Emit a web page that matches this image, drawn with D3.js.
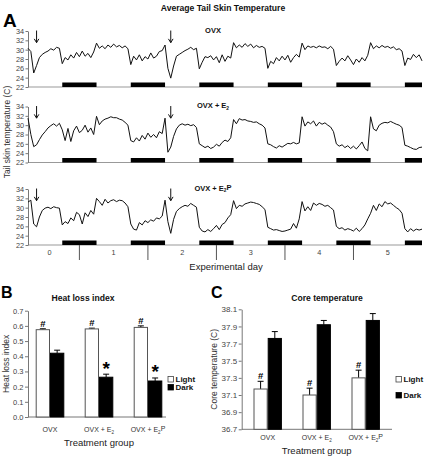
<!DOCTYPE html>
<html><head><meta charset="utf-8">
<script src="https://cdn.jsdelivr.net/npm/d3@7"></script>
<style>body{margin:0;background:#fff} text{font-family:"Liberation Sans",Arial,Helvetica,sans-serif}</style>
</head><body><svg id="c" width="425" height="456"></svg>
<script>
// ---------- Panel A data (hourly samples, °C) ----------
const ovx = [30.3,29.6,25.0,26.6,28.3,29.0,29.4,29.7,30.2,29.9,30.5,30.3,
 27.0,28.3,27.8,28.9,28.2,29.4,28.5,29.7,28.6,29.2,28.3,29.5,
 31.4,30.3,30.8,30.2,31.0,30.5,31.2,30.6,30.9,30.4,30.8,30.2,
 26.8,28.6,27.8,28.9,27.6,28.5,28.0,29.3,28.2,28.6,29.6,29.8,
 31.0,26.0,23.9,26.5,28.6,29.0,29.4,29.8,30.1,30.5,30.0,30.3,
 25.9,27.3,28.5,28.3,28.7,27.8,28.5,27.2,28.9,27.5,28.6,28.2,
 31.5,30.4,31.0,30.5,31.3,30.7,31.2,30.4,30.9,30.5,30.7,30.3,
 26.0,27.5,27.0,28.3,27.6,28.6,27.8,28.8,27.3,28.3,29.0,28.4,
 31.4,30.0,30.8,30.5,30.7,30.4,30.8,30.5,30.6,30.2,30.7,30.1,
 26.6,27.5,28.2,27.6,28.7,27.8,26.8,28.0,27.3,28.3,27.6,28.8,
 31.5,30.2,30.8,30.4,30.9,30.5,30.7,30.3,30.6,30.0,30.2,29.7,
 26.6,28.2,27.9,29.0,28.3,28.9,27.6];
const ovxE2 = [31.5,28.0,25.4,25.8,26.9,27.9,28.6,29.4,29.9,30.3,29.8,30.4,
 29.0,26.7,29.3,26.5,28.8,29.8,28.4,28.9,30.0,28.5,29.4,28.0,
 31.9,30.1,30.9,31.3,31.5,31.8,31.6,31.6,31.3,31.1,30.6,30.0,
 26.7,26.4,27.3,26.6,27.8,27.0,28.3,27.4,28.0,27.3,28.6,28.2,
 31.5,24.2,25.3,27.6,29.2,30.0,30.3,30.0,30.2,29.9,30.1,29.5,
 26.0,25.6,25.2,25.5,25.0,25.3,25.9,25.5,26.3,26.8,26.5,27.3,
 31.2,30.3,31.4,31.1,31.2,30.9,30.8,30.6,30.7,30.3,30.0,29.4,
 26.0,25.8,25.4,25.1,25.6,25.3,25.7,26.1,26.0,26.3,26.0,26.2,
 31.8,29.8,30.7,30.3,30.9,29.8,30.6,30.2,30.5,30.0,29.6,28.6,
 26.0,25.5,25.8,25.2,25.6,25.0,25.5,24.9,25.6,26.4,25.0,24.5,
 31.8,29.2,28.8,30.0,30.4,30.6,30.5,30.8,30.5,30.2,30.0,29.5,
 25.7,25.5,25.2,24.9,24.8,25.2,25.3];
const ovxE2P = [31.2,31.6,26.5,25.9,28.0,29.4,29.9,30.1,29.8,30.2,30.0,29.9,
 26.3,27.0,26.6,27.8,27.2,29.0,28.5,26.5,28.9,28.1,29.4,28.6,
 32.0,31.3,30.5,31.8,31.0,31.5,31.7,31.3,31.6,31.5,31.0,30.2,
 26.5,25.4,25.2,26.8,26.3,27.2,26.8,27.4,27.1,27.8,27.6,28.2,
 31.6,27.0,24.5,27.5,29.2,29.8,30.2,30.5,30.3,30.9,30.5,30.1,
 25.8,25.0,24.8,25.3,24.9,25.5,26.2,25.3,26.4,26.8,27.8,28.5,
 31.5,29.8,30.5,30.3,30.8,31.0,31.2,31.1,30.9,30.7,30.2,29.6,
 25.8,25.5,25.2,25.3,25.1,24.9,25.0,25.2,25.4,26.6,25.6,27.6,
 31.3,29.3,30.2,29.4,31.0,30.5,30.9,30.7,30.3,30.5,30.0,29.5,
 26.0,25.5,25.7,25.2,25.5,25.3,25.0,25.6,24.9,25.5,26.3,27.6,
 28.8,30.5,29.4,30.8,30.2,31.3,30.8,31.0,30.5,30.0,29.6,28.8,
 25.5,24.8,25.5,25.0,25.4,25.2,25.4];
const hours = ovx.map((_, i) => i);             // sample times (h)
const darkPeriods = [[12,24],[36,48],[60,72],[84,96],[108,120],[132,138]];
const injectionHours = [3, 50];
const tempTicks = [22,24,26,28,30,32,34];
const dayBoundaries = [18,42,66,90,114];
const dayLabels = ["0","1","2","3","4","5"];
const dayLabelHours = [7.5,30,54,78,102,126];
const panelTitles = ["OVX","OVX + E2","OVX + E2P"];

// ---------- Panel B / C data ----------
const groups = ["OVX","OVX + E2","OVX + E2P"];
const hliLight = [0.575,0.580,0.590];
const hliLightSE = [0.006,0.005,0.010];
const hliDark = [0.420,0.262,0.237];
const hliDarkSE = [0.020,0.020,0.020];
const hliLightMark = ["#","#","#"];
const hliDarkMark = ["","*","*"];
const hliTicks = [0,0.1,0.2,0.3,0.4,0.5,0.6,0.7];
const coreLight = [37.17,37.10,37.30];
const coreLightSE = [0.09,0.08,0.09];
const coreDark = [37.76,37.92,37.97];
const coreDarkSE = [0.08,0.05,0.08];
const coreLightMark = ["#","#","#"];
const coreDarkMark = ["","",""];
const coreTicks = [36.7,36.9,37.1,37.3,37.5,37.7,37.9,38.1];
const legendItems = ["Light","Dark"];

const svg = d3.select("#c");
svg.append("rect").attr("width",425).attr("height",456).attr("fill","#fff");
const FONT = '"Liberation Sans",Arial,Helvetica,sans-serif';

function subText(t, str){
  const m = str.match(/^(.*E)2(.*)$/);
  if(!m){ t.text(str); return t; }
  t.append("tspan").text(m[1]);
  t.append("tspan").attr("font-size","0.65em").attr("dy","0.35em").text("2");
  if(m[2]) t.append("tspan").attr("dy","-0.35em").text(m[2]);
  return t;
}
function txt(x,y,s,opt={}){
  const t = svg.append("text").attr("x",x).attr("y",y)
    .attr("font-size",opt.size||8).attr("fill",opt.fill||"#222")
    .attr("font-weight",opt.bold?"bold":"normal")
    .attr("text-anchor",opt.anchor||"middle");
  if(opt.rotate) t.attr("transform",`rotate(-90,${x},${y})`);
  subText(t,s);
  return t;
}
function styleAxis(g,size){
  g.attr("font-family",FONT);
  g.select(".domain").attr("stroke","#777");
  g.selectAll(".tick line").attr("stroke","#777");
  g.selectAll(".tick text").attr("font-size",size).attr("fill","#444");
}

// ---------- Panel A ----------
txt(3,27,"A",{size:19,bold:true,anchor:"start",fill:"#000"});
txt(223,11,"Average Tail Skin Temperature",{size:8.6,bold:true,fill:"#111"});
const xA = d3.scaleLinear().domain([0,138]).range([28,422]);
const seriesA = [ovx, ovxE2, ovxE2P];
const ranges = [[87,31],[162.5,106.5],[245,189]];
seriesA.forEach((data,i)=>{
  const y = d3.scaleLinear().domain([22,34]).range(ranges[i]);
  svg.append("line").attr("x1",28).attr("x2",422).attr("y1",y(22)).attr("y2",y(22))
    .attr("stroke","#999").attr("stroke-width",1);
  svg.append("g").selectAll("rect").data(darkPeriods).join("rect")
    .attr("x",d=>xA(d[0])).attr("width",d=>xA(d[1])-xA(d[0]))
    .attr("y",y(22)-4.5).attr("height",4.5).attr("fill","#000");
  const g = svg.append("g").attr("transform","translate(28,0)")
    .call(d3.axisLeft(y).tickValues(tempTicks).tickSize(2.5).tickSizeOuter(0).tickPadding(1.5));
  styleAxis(g,7.3);
  svg.append("path").datum(data)
    .attr("d",d3.line().x((d,k)=>xA(hours[k])).y(d=>y(d)))
    .attr("fill","none").attr("stroke","#111").attr("stroke-width",1);
  injectionHours.forEach(h=>{
    const ax = xA(h), top = y(34.1), bot = y(31.5);
    svg.append("path").attr("d",`M${ax},${top}V${bot}M${ax-2.3},${bot-3.8}L${ax},${bot}L${ax+2.3},${bot-3.8}`)
      .attr("fill","none").attr("stroke","#111").attr("stroke-width",1);
  });
  txt(213,y(34)+1.5,panelTitles[i],{size:7.5,bold:true,fill:"#111"});
});
// day axis
dayBoundaries.forEach(h=>{
  svg.append("line").attr("x1",xA(h)).attr("x2",xA(h)).attr("y1",245).attr("y2",260)
    .attr("stroke","#555").attr("stroke-width",1);
});
dayLabels.forEach((l,i)=> txt(xA(dayLabelHours[i]),255,l,{size:7.3,fill:"#444"}));
txt(226,270,"Experimental day",{size:9.5,fill:"#222"});
txt(10,132,"Tail skin temperature (C)",{size:8.5,fill:"#333",rotate:true});

// ---------- Bar panels ----------
function barPanel(o){
  const y = d3.scaleLinear().domain(o.domain).range(o.yr);
  const xb = d3.scaleBand().domain(groups).range(o.xr);
  const g = svg.append("g").attr("transform",`translate(${o.x0},0)`)
    .call(d3.axisLeft(y).tickValues(o.ticks).tickFormat(d3.format(".1f")).tickSize(3).tickSizeOuter(0).tickPadding(1.5));
  styleAxis(g,o.tick);
  svg.append("line").attr("x1",o.x0).attr("x2",o.xEnd).attr("y1",o.yr[0]).attr("y2",o.yr[0]).attr("stroke","#777");
  const bw = o.bw;
  const sets = [
    {v:o.light,se:o.lightSE,mk:o.lightMark,off:-bw,fill:"#fff",stroke:"#555"},
    {v:o.dark,se:o.darkSE,mk:o.darkMark,off:0,fill:"#000",stroke:"#000"}];
  sets.forEach(s=>{
    groups.forEach((gr,i)=>{
      const cx = xb(gr)+xb.bandwidth()/2 + s.off;
      const yt = y(s.v[i]), ye = y(s.v[i]+s.se[i]);
      svg.append("line").attr("x1",cx+bw/2).attr("x2",cx+bw/2).attr("y1",yt).attr("y2",ye).attr("stroke","#000");
      svg.append("line").attr("x1",cx+bw/2-3).attr("x2",cx+bw/2+3).attr("y1",ye).attr("y2",ye).attr("stroke","#000");
      svg.append("rect").attr("x",cx+0.5).attr("y",yt).attr("width",bw-1).attr("height",y(o.domain[0])-yt)
        .attr("fill",s.fill).attr("stroke",s.stroke).attr("stroke-width",1);
      if(s.mk[i]==="#") txt(cx+bw/2,ye-2,"#",{size:9.5,bold:true,fill:"#000"});
      if(s.mk[i]==="*") txt(cx+bw/2,ye+0.5,"*",{size:19,bold:true,fill:"#000"});
    });
  });
  groups.forEach(gr=> txt(xb(gr)+xb.bandwidth()/2,o.catY,gr,{size:7,fill:"#333"}));
  txt((o.xr[0]+o.xr[1])/2,o.catY+14,"Treatment group",{size:9.5,fill:"#222"});
  txt(o.ylabX,(o.yr[0]+o.yr[1])/2,o.ylab,{size:8.5,fill:"#333",rotate:true});
  txt(o.titleX,301,o.title,{size:8.6,bold:true,fill:"#111"});
  txt(o.letterX,298,o.letter,{size:16,bold:true,anchor:"start",fill:"#000"});
  legendItems.forEach((l,i)=>{
    const ly = o.legY[i];
    svg.append("rect").attr("x",o.legX).attr("y",ly-5.5).attr("width",5.5).attr("height",5.5)
      .attr("fill",i?"#000":"#fff").attr("stroke",i?"#000":"#444").attr("stroke-width",0.8);
    txt(o.legX+7.5,ly,l,{size:8,bold:true,anchor:"start",fill:"#111"});
  });
}
barPanel({domain:[0,0.7],yr:[417,310.7],xr:[25.5,172.5],x0:28,xEnd:166,bw:14.3,ticks:hliTicks,tick:7.5,
  light:hliLight,lightSE:hliLightSE,dark:hliDark,darkSE:hliDarkSE,lightMark:hliLightMark,darkMark:hliDarkMark,
  catY:432,ylab:"Heat loss index",ylabX:9,title:"Heat loss index",titleX:83,letter:"B",letterX:1,
  legX:168,legY:[382,390]});
barPanel({domain:[36.7,38.1],yr:[429.3,309.3],xr:[243.2,390.2],x0:241.7,xEnd:392,bw:14.2,ticks:coreTicks,tick:8,
  light:coreLight,lightSE:coreLightSE,dark:coreDark,darkSE:coreDarkSE,lightMark:coreLightMark,darkMark:coreDarkMark,
  catY:440,ylab:"Core temperature (C)",ylabX:217,title:"Core temperature",titleX:327,letter:"C",letterX:211,
  legX:396,legY:[382,398]});
</script></body></html>
